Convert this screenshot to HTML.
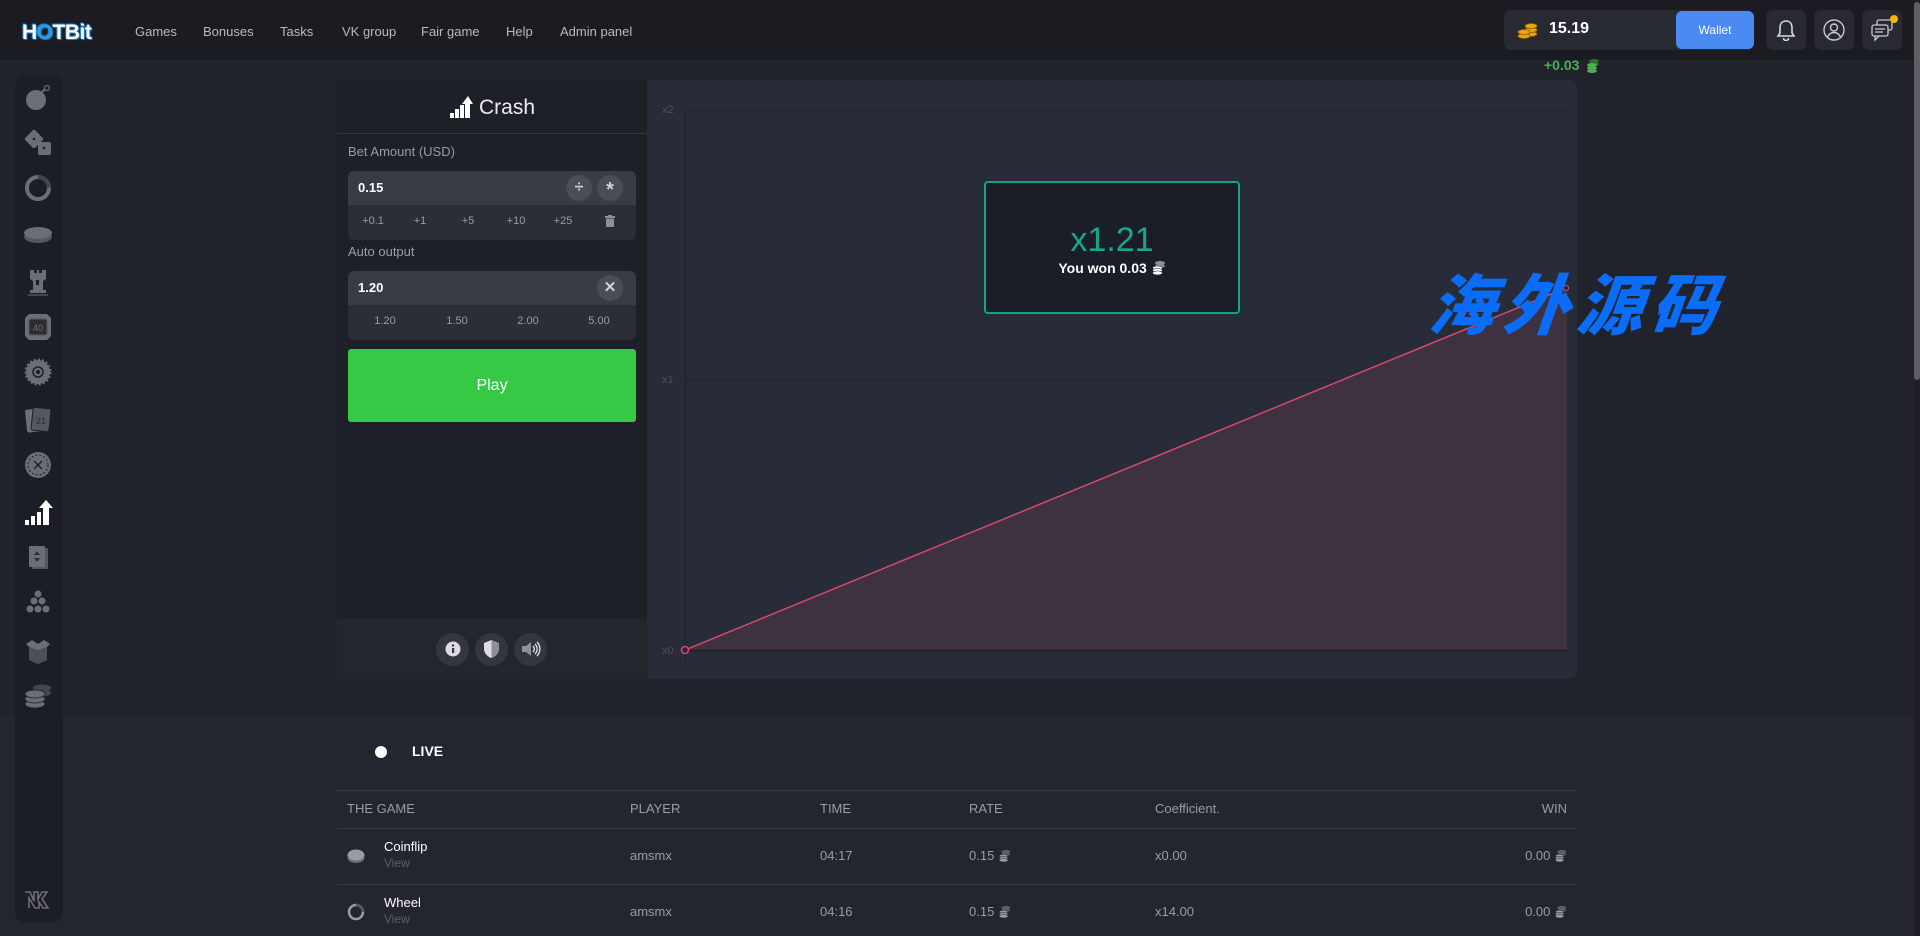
<!DOCTYPE html>
<html><head><meta charset="utf-8">
<style>
*{margin:0;padding:0;box-sizing:border-box}
html,body{width:1920px;height:936px;overflow:hidden;background:#20232b;font-family:"Liberation Sans",Arial,sans-serif;}
.a{position:absolute}
.hdr{left:0;top:0;width:1920px;height:60px;background:#1b1c21}
.nav{top:23px;font-size:13px;color:#b8bac0;line-height:18px}
.box{background:#272a33;border-radius:7px}
.sb{left:15px;top:75px;width:48px;height:847px;background:#1c1e25;border-radius:10px}
.ic{left:23px;width:30px;height:30px}
.lp{left:337px;top:80px;width:310px;height:599px;background:#1e2028}
.cp{left:647px;top:80px;width:930px;height:599px;background:#272c38;border-radius:0 8px 8px 0}
.lbl{font-size:13px;color:#9a9ca3}
.inp{left:348px;width:288px;height:69px;border-radius:6px;overflow:hidden;background:#2b2e36}
.inp .t{position:absolute;left:0;top:0;width:288px;height:34px;background:#393c45}
.val{position:absolute;left:10px;top:9px;font-size:13px;font-weight:bold;color:#fff}
.cb{position:absolute;width:26px;height:26px;border-radius:50%;background:#4a4d56;color:#d0d1d4;text-align:center;line-height:26px;font-size:16px;font-weight:bold}
.opt{position:absolute;top:44px;font-size:11px;color:#9a9ca3;transform:translateX(-50%)}
.fb{width:33px;height:33px;border-radius:50%;background:#33363e;top:633px}
.live{left:0;top:715px;width:1920px;height:221px;background:#23262f}
.hl{left:337px;width:1240px;height:1px;background:#363944}
.th{top:801px;font-size:13px;color:#9a9ca3}
.td{font-size:13px;color:#9a9ca3}
</style></head><body>

<!-- header -->
<div class="a hdr"></div>
<div class="a" style="left:22px;top:21px;font-size:21px;font-weight:900;color:#fff;letter-spacing:-0.5px;text-shadow:0 0 2px #2a8fd6,1px 1px 0 #1d6fb0,-1px -1px 0 #1d6fb0">H<span style="color:#2e9be6">O</span>TBit</div>
<div class="a nav" style="left:135px">Games</div>
<div class="a nav" style="left:203px">Bonuses</div>
<div class="a nav" style="left:280px">Tasks</div>
<div class="a nav" style="left:342px">VK group</div>
<div class="a nav" style="left:421px">Fair game</div>
<div class="a nav" style="left:506px">Help</div>
<div class="a nav" style="left:560px">Admin panel</div>

<div class="a box" style="left:1504px;top:10px;width:250px;height:40px"></div>
<svg class="a" style="left:1517px;top:20px" width="22" height="20" viewBox="0 0 22 20">
<g fill="#e8a512" stroke="#8a5d00" stroke-width="0.8"><ellipse cx="14" cy="14" rx="6" ry="2.5"/><ellipse cx="14" cy="10" rx="6" ry="2.5"/><ellipse cx="14" cy="6" rx="6" ry="2.5"/><ellipse cx="7" cy="16" rx="6" ry="2.5"/><ellipse cx="7" cy="12" rx="6" ry="2.5"/></g></svg>
<div class="a" style="left:1549px;top:20px;font-size:16px;font-weight:bold;color:#fff">15.19</div>
<div class="a" style="left:1676px;top:11px;width:78px;height:38px;background:#4b8af3;border-radius:6px;color:#fff;font-size:12px;text-align:center;line-height:38px">Wallet</div>
<div class="a box" style="left:1766px;top:10px;width:40px;height:40px"></div>
<svg class="a" style="left:1776px;top:19px" width="20" height="22" viewBox="0 0 20 22"><path d="M10 2c-4 0-6 3-6 7v5l-2 3h16l-2-3V9c0-4-2-7-6-7z" fill="none" stroke="#d8d9dc" stroke-width="1.6"/><path d="M7.5 19a2.5 2.5 0 005 0" fill="none" stroke="#d8d9dc" stroke-width="1.6"/></svg>
<div class="a box" style="left:1814px;top:10px;width:40px;height:40px"></div>
<svg class="a" style="left:1823px;top:19px" width="22" height="22" viewBox="0 0 22 22"><circle cx="11" cy="11" r="10" fill="none" stroke="#c8c9cc" stroke-width="1.4"/><circle cx="11" cy="8.5" r="3.5" fill="none" stroke="#c8c9cc" stroke-width="1.4"/><path d="M4.5 18c1.5-3 4-4.5 6.5-4.5s5 1.5 6.5 4.5" fill="none" stroke="#c8c9cc" stroke-width="1.4"/></svg>
<div class="a box" style="left:1862px;top:10px;width:40px;height:40px"></div>
<svg class="a" style="left:1870px;top:17px" width="26" height="26" viewBox="0 0 26 26"><rect x="7" y="3" width="15" height="10" rx="2" fill="none" stroke="#c8c9cc" stroke-width="1.3"/><rect x="2" y="8" width="16" height="11" rx="2" fill="#272a33" stroke="#c8c9cc" stroke-width="1.3"/><path d="M5 19v4l4-4" fill="none" stroke="#c8c9cc" stroke-width="1.3"/><path d="M5 12h10M5 15h8" stroke="#c8c9cc" stroke-width="1.2"/></svg>
<div class="a" style="left:1890px;top:15px;width:8px;height:8px;border-radius:50%;background:#f5b50a"></div>
<div class="a" style="left:1544px;top:57px;font-size:14px;font-weight:bold;color:#4caf50">+0.03</div>
<svg class="a" style="left:1585px;top:57px" width="16" height="16" viewBox="0 0 16 16"><g fill="#2e6e35"><ellipse cx="9" cy="4" rx="5" ry="2"/><ellipse cx="9" cy="7" rx="5" ry="2"/></g><g fill="#4caf50"><ellipse cx="7" cy="8" rx="5" ry="2"/><ellipse cx="7" cy="11" rx="5" ry="2"/><ellipse cx="7" cy="14" rx="5" ry="2"/></g></svg>

<!-- live section bg -->
<div class="a live"></div>

<!-- sidebar -->
<div class="a sb"></div>
<svg class="a ic" style="top:83px" viewBox="0 0 30 30"><circle cx="13" cy="17" r="10" fill="#6c6e75"/><path d="M19 9l3-3" stroke="#6c6e75" stroke-width="2"/><circle cx="24" cy="5" r="2.5" fill="none" stroke="#6c6e75" stroke-width="1.2"/></svg>
<svg class="a ic" style="top:127px" viewBox="0 0 30 30"><rect x="4" y="5" width="14" height="14" rx="2" transform="rotate(45 11 12)" fill="#6c6e75"/><rect x="15" y="15" width="13" height="13" rx="2" fill="#6c6e75"/><circle cx="11" cy="12" r="1.3" fill="#1c1e25"/><circle cx="21" cy="21" r="1.3" fill="#1c1e25"/></svg>
<svg class="a ic" style="top:173px" viewBox="0 0 30 30"><circle cx="15" cy="15" r="11" fill="none" stroke="#6c6e75" stroke-width="4"/><path d="M15 4a11 11 0 0111 11" fill="none" stroke="#44464d" stroke-width="4"/></svg>
<svg class="a ic" style="top:220px" viewBox="0 0 30 30"><ellipse cx="15" cy="17" rx="14" ry="6" fill="#55575e"/><ellipse cx="15" cy="13" rx="14" ry="6" fill="#6c6e75"/></svg>
<svg class="a ic" style="top:267px" viewBox="0 0 30 30"><path d="M7 3h4v3h3V3h2v3h3V3h4v9l-3 2v9h3v3H7v-3h3v-9l-3-2z" fill="#6c6e75"/><rect x="13" y="13" width="3" height="5" fill="#1c1e25"/><rect x="5" y="27" width="20" height="2" fill="#44464d"/></svg>
<svg class="a ic" style="top:312px" viewBox="0 0 30 30"><path d="M6 2h18l4 4v18l-4 4H6l-4-4V6z" fill="#6c6e75"/><rect x="6" y="7" width="18" height="16" rx="2" fill="#2b2d33" stroke="#55575e"/><text x="15" y="19" font-size="9" fill="#6c6e75" text-anchor="middle" font-family="Liberation Sans">40</text></svg>
<svg class="a ic" style="top:357px" viewBox="0 0 30 30"><circle cx="15" cy="15" r="12" fill="#6c6e75" stroke="#6c6e75" stroke-width="3" stroke-dasharray="2 2"/><circle cx="15" cy="15" r="5" fill="none" stroke="#1c1e25" stroke-width="1.5"/><circle cx="15" cy="15" r="2" fill="#1c1e25"/></svg>
<svg class="a ic" style="top:405px" viewBox="0 0 30 30"><rect x="3" y="4" width="17" height="23" rx="2" fill="#6c6e75" transform="rotate(-6 11 15)"/><rect x="9" y="3" width="18" height="23" rx="2" fill="#55575e" stroke="#1c1e25" transform="rotate(6 18 15)"/><text x="18" y="19" font-size="9" fill="#2b2d33" text-anchor="middle" font-family="Liberation Sans">21</text></svg>
<svg class="a ic" style="top:450px" viewBox="0 0 30 30"><circle cx="15" cy="15" r="13" fill="#6c6e75"/><circle cx="15" cy="15" r="10" fill="none" stroke="#1c1e25" stroke-width="1" stroke-dasharray="2 2"/><path d="M11 11l8 8M19 11l-8 8" stroke="#1c1e25" stroke-width="1.3"/></svg>
<svg class="a ic" style="top:497px" viewBox="0 0 30 30"><rect x="2" y="23" width="4" height="5" fill="#fff"/><rect x="8" y="19" width="4" height="9" fill="#fff"/><rect x="14" y="15" width="4" height="13" fill="#fff"/><path d="M20 28V11h-4l7-8 7 8h-4v17z" fill="#fff"/></svg>
<svg class="a ic" style="top:543px" viewBox="0 0 30 30"><rect x="9" y="5" width="16" height="21" rx="1" fill="#55575e"/><rect x="6" y="3" width="16" height="21" rx="1" fill="#6c6e75"/><path d="M14 8l-3 4h6zM14 19l-3-4h6z" fill="#2b2d33"/></svg>
<svg class="a ic" style="top:588px" viewBox="0 0 30 30"><g fill="#6c6e75"><circle cx="15" cy="6" r="3.5"/><circle cx="11" cy="13" r="3.5"/><circle cx="19" cy="13" r="3.5"/><circle cx="7" cy="21" r="3.5"/><circle cx="15" cy="21" r="3.5"/><circle cx="23" cy="21" r="3.5"/></g></svg>
<svg class="a ic" style="top:635px" viewBox="0 0 30 30"><path d="M3 9l6-4 6 4 6-4 6 4-3 3v13l-9 4-9-4V12z" fill="#6c6e75"/><path d="M6 12l9 3 9-3v13l-9 4-9-4z" fill="#4d4f56"/></svg>
<svg class="a ic" style="top:680px" viewBox="0 0 30 30"><g fill="#44464d"><ellipse cx="19" cy="8" rx="9" ry="3.5"/><ellipse cx="19" cy="13" rx="9" ry="3.5"/></g><g fill="#6c6e75" stroke="#1c1e25" stroke-width="0.8"><ellipse cx="12" cy="24" rx="10" ry="4"/><ellipse cx="12" cy="19" rx="10" ry="4"/><ellipse cx="12" cy="14" rx="10" ry="4"/></g></svg>
<svg class="a ic" style="top:884px" viewBox="0 0 30 30"><path d="M2 8h5l4 9V8h4v7l4-7h5l-5 7 6 9h-5l-4-6v6h-4l-6-10v10" fill="none" stroke="#6c6e75" stroke-width="1.6"/></svg>

<!-- left panel -->
<div class="a lp"></div>
<svg class="a" style="left:450px;top:96px" width="23" height="22" viewBox="0 0 23 22"><rect x="0" y="17" width="4" height="5" fill="#fff"/><rect x="5" y="13" width="4" height="9" fill="#fff"/><rect x="10" y="9" width="4" height="13" fill="#fff"/><path d="M15 22V8h-3l6-8 5 8h-3v14z" fill="#fff"/></svg>
<div class="a" style="left:479px;top:96px;font-size:21px;color:#ececee">Crash</div>
<div class="a" style="left:337px;top:133px;width:309px;height:1px;background:#34373f"></div>
<div class="a lbl" style="left:348px;top:144px">Bet Amount (USD)</div>
<div class="a inp" style="top:171px"><div class="t"></div><div class="val">0.15</div>
<div class="cb" style="left:218px;top:4px">÷</div><div class="cb" style="left:249px;top:4px;font-size:20px;line-height:30px">*</div>
<div class="opt" style="left:25px">+0.1</div><div class="opt" style="left:72px">+1</div><div class="opt" style="left:120px">+5</div><div class="opt" style="left:168px">+10</div><div class="opt" style="left:215px">+25</div>
<svg style="position:absolute;left:257px;top:44px" width="10" height="12" viewBox="0 0 10 12"><rect x="0" y="1" width="10" height="2" fill="#8e9097"/><rect x="3" y="0" width="4" height="1.5" fill="#8e9097"/><rect x="1" y="3.5" width="8" height="8.5" rx="1" fill="#8e9097"/></svg>
</div>
<div class="a lbl" style="left:348px;top:244px">Auto output</div>
<div class="a inp" style="top:271px"><div class="t"></div><div class="val">1.20</div>
<div class="cb" style="left:249px;top:4px;font-size:15px">✕</div>
<div class="opt" style="left:37px">1.20</div><div class="opt" style="left:109px">1.50</div><div class="opt" style="left:180px">2.00</div><div class="opt" style="left:251px">5.00</div>
</div>
<div class="a" style="left:348px;top:349px;width:288px;height:73px;background:#36c946;border-radius:3px;color:#fff;font-size:16px;text-align:center;line-height:73px">Play</div>
<div class="a" style="left:337px;top:619px;width:309px;height:60px;background:#24262e"></div>
<div class="a fb" style="left:436px"></div>
<svg class="a" style="left:445px;top:641px" width="16" height="16" viewBox="0 0 16 16"><circle cx="8" cy="8" r="7.5" fill="#dcdde0"/><rect x="7" y="7" width="2.2" height="5" fill="#33363e"/><circle cx="8" cy="4.5" r="1.2" fill="#33363e"/></svg>
<div class="a fb" style="left:475px"></div>
<svg class="a" style="left:484px;top:640px" width="15" height="18" viewBox="0 0 15 18"><path d="M7.5 0L0 3v6c0 4 3.5 8 7.5 9z" fill="#dcdde0"/><path d="M7.5 0L15 3v6c0 4-3.5 8-7.5 9z" fill="#8e9097"/></svg>
<div class="a fb" style="left:514px"></div>
<svg class="a" style="left:521px;top:640px" width="20" height="18" viewBox="0 0 20 18"><path d="M1 6h4l5-4v14l-5-4H1z" fill="#8e9097"/><path d="M12 6a4 4 0 010 6M14 4a7 7 0 010 10M16 2a10 10 0 010 14" fill="none" stroke="#e6e7ea" stroke-width="1.3"/></svg>

<!-- chart panel -->
<div class="a cp"></div>
<svg class="a" style="left:647px;top:80px" width="930" height="599" viewBox="0 0 930 599">
<line x1="38" y1="30.5" x2="920" y2="30.5" stroke="#20242d" stroke-width="1"/>
<line x1="38" y1="300.5" x2="920" y2="300.5" stroke="#20242d" stroke-width="1"/>
<polygon points="38,570 919,208 920,208 920,570" fill="#3f3240"/>
<line x1="38" y1="570.5" x2="920" y2="570.5" stroke="#1a1d25" stroke-width="1.2"/>
<line x1="38.5" y1="30" x2="38.5" y2="580" stroke="#1c1f27" stroke-width="1"/>
<line x1="38" y1="570" x2="919" y2="208" stroke="#e04a6d" stroke-width="1.4"/>
<circle cx="38" cy="570" r="3.5" fill="#2a2330" stroke="#e04a6d" stroke-width="1.5"/>
<circle cx="919" cy="208" r="2.5" fill="#2a2330" stroke="#e04a6d" stroke-width="1"/>
<g font-family="Liberation Sans" font-size="11" fill="#4b4f59">
<text x="15" y="33">x2</text><text x="15" y="303">x1</text><text x="15" y="574">x0</text></g>
</svg>

<!-- popup -->
<div class="a" style="left:984px;top:181px;width:256px;height:133px;background:#1b1e26;border:2px solid #13a386;border-radius:4px"></div>
<div class="a" style="left:984px;top:220px;width:256px;text-align:center;font-size:34px;color:#19a68a;line-height:40px">x1.21</div>
<div class="a" style="left:984px;top:259px;width:256px;text-align:center;font-size:14px;font-weight:bold;color:#fff;line-height:18px">You won 0.03 <svg width="15" height="15" viewBox="0 0 15 15" style="vertical-align:-2px"><g fill="#8e9097"><ellipse cx="9" cy="3" rx="5" ry="2"/><ellipse cx="9" cy="6" rx="5" ry="2"/></g><g fill="#fff" stroke="#1b1e26" stroke-width="0.6"><ellipse cx="6.5" cy="8" rx="5" ry="2"/><ellipse cx="6.5" cy="10.5" rx="5" ry="2"/><ellipse cx="6.5" cy="13" rx="5" ry="2"/></g></svg></div>

<!-- watermark -->
<div class="a" style="left:1430px;top:258px;font-size:66px;line-height:86px;color:#0a6cf7;font-family:'Noto Sans CJK SC','WenQuanYi Zen Hei',sans-serif;font-weight:900;font-style:italic;letter-spacing:8px;transform:skewX(-6deg)">海外源码</div>

<!-- live -->
<div class="a" style="left:375px;top:746px;width:12px;height:12px;border-radius:50%;background:#fff"></div>
<div class="a" style="left:412px;top:743px;font-size:14px;color:#fff;font-weight:bold">LIVE</div>
<div class="a hl" style="top:790px"></div>
<div class="a th" style="left:347px">THE GAME</div>
<div class="a th" style="left:630px">PLAYER</div>
<div class="a th" style="left:820px">TIME</div>
<div class="a th" style="left:969px">RATE</div>
<div class="a th" style="left:1155px">Coefficient.</div>
<div class="a th" style="left:1467px;width:100px;text-align:right">WIN</div>
<div class="a hl" style="top:828px"></div>

<svg class="a" style="left:347px;top:847px" width="18" height="18" viewBox="0 0 18 18"><ellipse cx="9" cy="11" rx="8.5" ry="5" fill="#6c6e75"/><ellipse cx="9" cy="8" rx="8.5" ry="5.5" fill="#9a9ca3"/></svg>
<div class="a" style="left:384px;top:839px;font-size:13px;color:#fff">Coinflip</div>
<div class="a" style="left:384px;top:856px;font-size:12px;color:#5d6068">View</div>
<div class="a td" style="left:630px;top:848px">amsmx</div>
<div class="a td" style="left:820px;top:848px">04:17</div>
<div class="a td" style="left:969px;top:848px">0.15 <svg width="13" height="13" viewBox="0 0 15 15" style="vertical-align:-2px"><g fill="#5d6068"><ellipse cx="9" cy="3" rx="5" ry="2"/><ellipse cx="9" cy="6" rx="5" ry="2"/></g><g fill="#9a9ca3" stroke="#23262f" stroke-width="0.6"><ellipse cx="6.5" cy="8" rx="5" ry="2"/><ellipse cx="6.5" cy="10.5" rx="5" ry="2"/><ellipse cx="6.5" cy="13" rx="5" ry="2"/></g></svg></div>
<div class="a td" style="left:1155px;top:848px">x0.00</div>
<div class="a td" style="left:1467px;top:848px;width:100px;text-align:right">0.00 <svg width="13" height="13" viewBox="0 0 15 15" style="vertical-align:-2px"><g fill="#5d6068"><ellipse cx="9" cy="3" rx="5" ry="2"/><ellipse cx="9" cy="6" rx="5" ry="2"/></g><g fill="#9a9ca3" stroke="#23262f" stroke-width="0.6"><ellipse cx="6.5" cy="8" rx="5" ry="2"/><ellipse cx="6.5" cy="10.5" rx="5" ry="2"/><ellipse cx="6.5" cy="13" rx="5" ry="2"/></g></svg></div>
<div class="a hl" style="top:884px"></div>

<svg class="a" style="left:347px;top:903px" width="18" height="18" viewBox="0 0 18 18"><circle cx="9" cy="9" r="7" fill="none" stroke="#9a9ca3" stroke-width="2.5"/><path d="M9 2a7 7 0 017 7" fill="none" stroke="#55575e" stroke-width="2.5"/></svg>
<div class="a" style="left:384px;top:895px;font-size:13px;color:#fff">Wheel</div>
<div class="a" style="left:384px;top:912px;font-size:12px;color:#5d6068">View</div>
<div class="a td" style="left:630px;top:904px">amsmx</div>
<div class="a td" style="left:820px;top:904px">04:16</div>
<div class="a td" style="left:969px;top:904px">0.15 <svg width="13" height="13" viewBox="0 0 15 15" style="vertical-align:-2px"><g fill="#5d6068"><ellipse cx="9" cy="3" rx="5" ry="2"/><ellipse cx="9" cy="6" rx="5" ry="2"/></g><g fill="#9a9ca3" stroke="#23262f" stroke-width="0.6"><ellipse cx="6.5" cy="8" rx="5" ry="2"/><ellipse cx="6.5" cy="10.5" rx="5" ry="2"/><ellipse cx="6.5" cy="13" rx="5" ry="2"/></g></svg></div>
<div class="a td" style="left:1155px;top:904px">x14.00</div>
<div class="a td" style="left:1467px;top:904px;width:100px;text-align:right">0.00 <svg width="13" height="13" viewBox="0 0 15 15" style="vertical-align:-2px"><g fill="#5d6068"><ellipse cx="9" cy="3" rx="5" ry="2"/><ellipse cx="9" cy="6" rx="5" ry="2"/></g><g fill="#9a9ca3" stroke="#23262f" stroke-width="0.6"><ellipse cx="6.5" cy="8" rx="5" ry="2"/><ellipse cx="6.5" cy="10.5" rx="5" ry="2"/><ellipse cx="6.5" cy="13" rx="5" ry="2"/></g></svg></div>

<!-- scrollbar -->
<div class="a" style="left:1914px;top:0;width:6px;height:936px;background:#1d1f25"></div>
<div class="a" style="left:1914px;top:2px;width:6px;height:378px;background:#5e5f62;border-radius:3px"></div>
</body></html>
